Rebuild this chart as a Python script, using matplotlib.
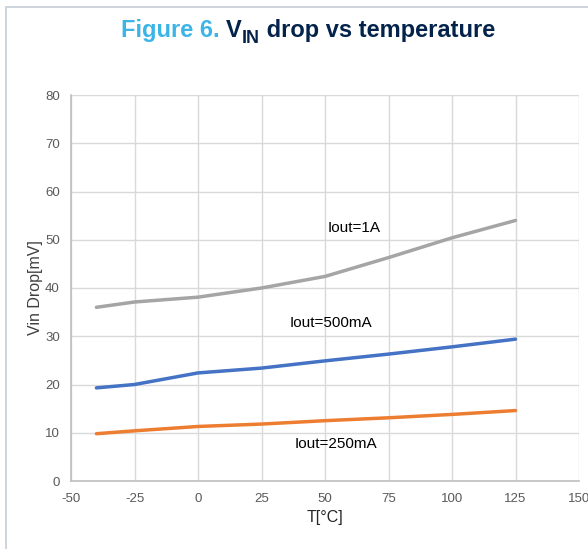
import matplotlib
matplotlib.use("Agg")
import matplotlib.pyplot as plt
from matplotlib.patches import Rectangle

# temperature points and Vin drop readings (mV)
temps = [-40, -25, 0, 25, 50, 75, 100, 125]
drop_1a = [36.0, 37.1, 38.1, 40.0, 42.4, 46.3, 50.4, 54.0]
drop_500ma = [19.3, 20.0, 22.4, 23.4, 24.9, 26.3, 27.8, 29.4]
drop_250ma = [9.8, 10.4, 11.3, 11.8, 12.5, 13.1, 13.8, 14.6]

x_ticks = [-50, -25, 0, 25, 50, 75, 100, 125, 150]
y_ticks = [0, 10, 20, 30, 40, 50, 60, 70, 80]

plt.rcParams['font.family'] = ['Liberation Sans', 'DejaVu Sans']
plt.rcParams['axes.unicode_minus'] = False

fig = plt.figure(figsize=(5.88, 5.49), dpi=100)
ax = fig.add_axes([71 / 588, 68 / 549, 508 / 588, 386 / 549])

# outer frame of the figure panel
fig.patches.append(Rectangle((6 / 588, -0.05), 1.1, (549 - 7) / 549 + 0.05,
                             transform=fig.transFigure, fill=False,
                             edgecolor='#C5CDD5', linewidth=1.2, clip_on=False))

ax.plot(temps, drop_1a, color='#A5A5A5', lw=2.5, solid_capstyle='round')
ax.plot(temps, drop_500ma, color='#4472C4', lw=2.5, solid_capstyle='round')
ax.plot(temps, drop_250ma, color='#ED7D31', lw=2.5, solid_capstyle='round')

ax.text(61.5, 52.4, 'Iout=1A', ha='center', va='center', fontsize=11)
ax.text(52.5, 32.7, 'Iout=500mA', ha='center', va='center', fontsize=11)
ax.text(54.5, 7.7, 'Iout=250mA', ha='center', va='center', fontsize=11)

ax.set_xlim(-50, 150)
ax.set_ylim(0, 80)
ax.set_xticks(x_ticks)
ax.set_yticks(y_ticks)
ax.grid(True, color='#D9D9D9', linewidth=1.0)
ax.set_axisbelow(True)
for side in ['top', 'right']:
    ax.spines[side].set_visible(False)
for side in ['left', 'bottom']:
    ax.spines[side].set_color('#BFBFBF')
    ax.spines[side].set_linewidth(1.2)
ax.tick_params(length=0, labelsize=9.5, labelcolor='#595959')
ax.tick_params(axis='x', pad=9)
ax.tick_params(axis='y', pad=8)

ax.set_xlabel('T[°C]', fontsize=11.5, color='#262626')
ax.set_ylabel('Vin Drop[mV]', fontsize=11.5, color='#404040')
ax.xaxis.set_label_coords((325 - 71) / 508, -(510 - 481) / 386)
ax.yaxis.set_label_coords(-28 / 508, (481 - 288) / 386)

# title in pieces: blue figure number, navy text with subscript
ty = 1 - 37 / 549
pieces = [('Figure 6. ', '#3CB4E6', 17, 0),
          ('V', '#03234B', 17, 0),
          ('IN', '#03234B', 13, -6),
          (' drop vs temperature', '#03234B', 17, 0)]
fig.canvas.draw()
renderer = fig.canvas.get_renderer()
texts = []
total = 0
for s, c, fs, dy in pieces:
    t = fig.text(0, ty + dy / 549, s, ha='left', va='baseline', fontsize=fs,
                 fontweight='bold', color=c)
    w = t.get_window_extent(renderer).width
    texts.append((t, w))
    total += w
x = 308 - total / 2
for t, w in texts:
    t.set_x(x / 588)
    x += w

fig.savefig('out.png', dpi=100)
